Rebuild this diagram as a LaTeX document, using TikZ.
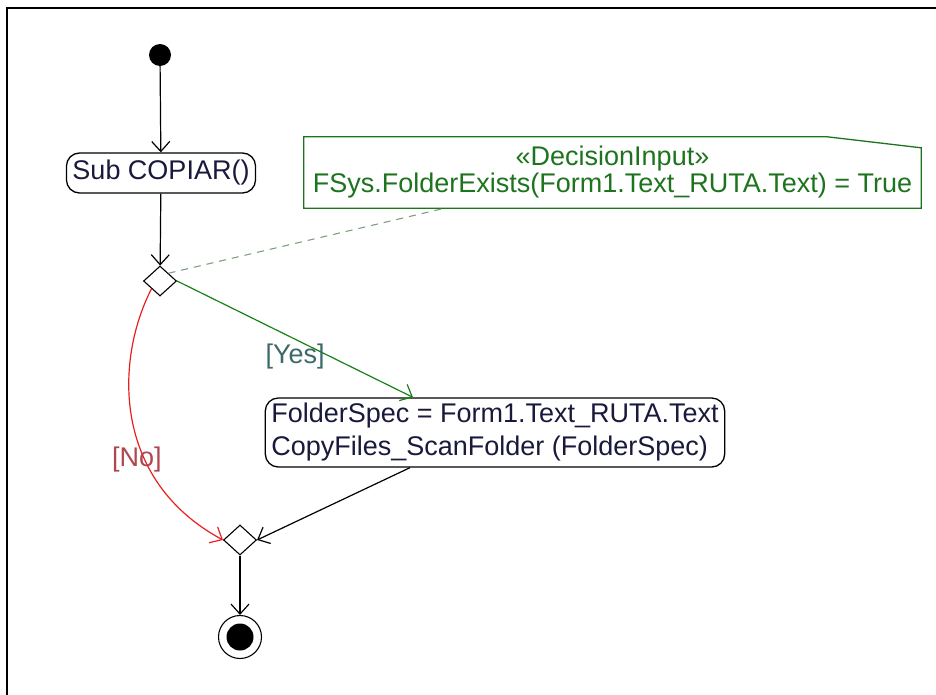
\documentclass[tikz,border=0pt]{standalone}
\usepackage{fontspec}
\setmainfont{Liberation Sans}
\usetikzlibrary{arrows.meta,shapes.geometric}
\definecolor{flowgreen}{RGB}{25,128,25}
\definecolor{notegreen}{RGB}{30,115,30}
\definecolor{linkgray}{RGB}{125,160,125}
\definecolor{flowred}{RGB}{235,30,30}
\definecolor{nolabel}{RGB}{175,70,80}
\definecolor{yeslabel}{RGB}{60,105,105}
\definecolor{actiontext}{RGB}{25,25,60}

\begin{document}
\begin{tikzpicture}[x=1pt, y=-1pt,
    font=\fontsize{27}{33}\selectfont,
    action/.style={draw, rounded corners=13pt, line width=1.3pt,
      inner xsep=6pt, inner ysep=4pt, text=actiontext},
    decision/.style={draw, diamond, inner sep=0pt, line width=1.1pt,
      minimum width=33pt, minimum height=30pt},
    flow/.style={line width=1.2pt, -{Straight Barb[length=10pt,width=18pt]}},
    notetext/.style={inner sep=0pt, minimum width=617pt, minimum height=71pt,
      align=center, text=notegreen, font=\fontsize{27}{27}\selectfont},
    notebox/.style={draw=notegreen, line width=1.3pt}]
			%%%%% FRAME %%%%%
			\useasboundingbox (0,0) rectangle (936,695);
			\draw[line width=2pt] (7,695) -- (7,8) -- (936,8);
			
			%%%%% NODES %%%%%
			\node[circle, fill, inner sep=0pt, minimum size=22pt] (start) at (160,55) {};
			\node[action, minimum height=40pt] (sub) at (161,173) {Sub COPIAR()};
			\node[decision] (dec) at (160,281) {};
			
			\node[notetext] (note) at (612.5,172.5) {«DecisionInput»\\FSys.FolderExists(Form1.Text\_RUTA.Text) = True};
			\draw[notebox] (note.south west) -- (note.north west) -- ([xshift=-94pt]note.north east)
			  -- ([yshift=-11pt]note.north east) -- (note.south east) -- cycle;
			
			\node[action, minimum height=69pt, align=left] (act) at (495,432.5)
			  {FolderSpec = Form1.Text\_RUTA.Text\\CopyFiles\_ScanFolder (FolderSpec)};
			
			\node[decision] (merge) at (240,540) {};
			\node[circle, draw, line width=1.1pt, inner sep=0pt, minimum size=43pt] (stop) at (240,637) {};
			\node[circle, fill, inner sep=0pt, minimum size=27pt] (stopdot) at (stop.center) {};
			
			%%%%% CONNECTORS %%%%%
			\draw[flow] (start) -- (sub);
			\draw[flow] (sub) -- (dec);
			\draw[linkgray, line width=1.1pt, dash pattern=on 7pt off 6pt] (dec.north east) -- ([xshift=141pt]note.south west);
			\draw[flow, flowgreen] (dec.east) -- ([xshift=-82pt]act.north)
			  node[pos=.5, below=1pt, text=yeslabel] {[Yes]};
			\draw[flow, flowred] (dec.south west) .. controls (115,360) and (112,480) .. (merge.west)
			  node[pos=.65, xshift=-8pt, text=nolabel] {[No]};
			\draw[flow] ([xshift=-85pt]act.south) -- (merge.east);
			\draw[flow] (merge) -- (stop);
			
			%%%%% END %%%%%
		\end{tikzpicture}
\end{document}
